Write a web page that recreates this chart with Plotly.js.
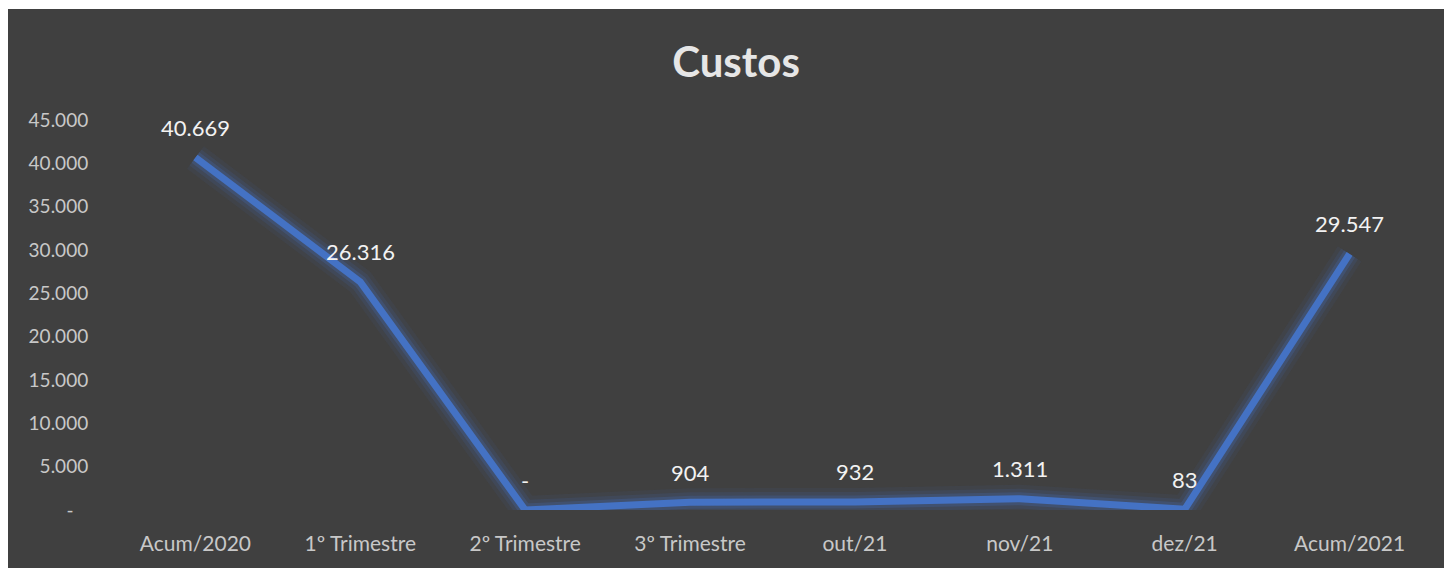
<!DOCTYPE html>
<html>
<head>
<meta charset="utf-8">
<script src="https://cdn.plot.ly/plotly-3.0.1.min.js"></script>
<style>
  html, body { margin: 0; padding: 0; background: #ffffff; width: 1444px; height: 568px; overflow: hidden; }
  #chart { position: absolute; left: 8px; top: 9px; width: 1436px; height: 559px; }
</style>
</head>
<body>
<div id="chart"></div>
<script>
const categories = ["Acum/2020", "1º Trimestre", "2º Trimestre", "3º Trimestre", "out/21", "nov/21", "dez/21", "Acum/2021"];
const custos = [40669, 26316, 0, 904, 932, 1311, 83, 29547];
const dataLabels = ["40.669", "26.316", "-", "904", "932", "1.311", "83", "29.547"];
const yTickVals = [0, 5000, 10000, 15000, 20000, 25000, 30000, 35000, 40000, 45000];
const yTickText = ["-\u00a0\u00a0\u00a0", "5.000", "10.000", "15.000", "20.000", "25.000", "30.000", "35.000", "40.000", "45.000"];

const FONT = "Lato, 'Open Sans', sans-serif";
const idx = categories.map((_, i) => i);

const glowLayers = [
  {w: 28, c: "rgba(68,114,196,0.07)"},
  {w: 20, c: "rgba(68,114,196,0.12)"},
  {w: 13, c: "rgba(68,114,196,0.22)"}
];
const traces = glowLayers.map(g => ({
  x: idx, y: custos, type: "scatter", mode: "lines",
  line: {color: g.c, width: g.w}, hoverinfo: "skip", showlegend: false
}));
traces.push({
  x: idx, y: custos, type: "scatter", mode: "lines",
  line: {color: "#4472C4", width: 7}, showlegend: false, name: "Custos"
});

const annotations = idx.map(i => ({
  x: i, y: custos[i], xref: "x", yref: "y",
  text: dataLabels[i], showarrow: false, yshift: 30,
  font: {family: FONT, size: 22, color: "#f2f2f2"}
}));

const layout = {
  width: 1436, height: 559,
  paper_bgcolor: "#404040", plot_bgcolor: "#404040",
  margin: {l: 104.5, r: 11.5, t: 111, b: 58},
  title: {text: "<b>Custos</b>", x: 728/1436, xref: "container", xanchor: "center",
          y: 1 - 53/559, yref: "container", yanchor: "middle",
          font: {family: FONT, size: 42, color: "#e6e6e6"}},
  xaxis: {
    range: [-0.5, 7.5], tickvals: idx, ticktext: categories,
    showgrid: false, zeroline: false, showline: false,
    ticks: "outside", ticklen: 15, tickcolor: "rgba(0,0,0,0)",
    tickfont: {family: FONT, size: 21, color: "#c8c8c8"}, fixedrange: true
  },
  yaxis: {
    range: [0, 45000], tickvals: yTickVals, ticktext: yTickText,
    showgrid: false, zeroline: false, showline: false,
    ticks: "outside", ticklen: 20, tickcolor: "rgba(0,0,0,0)",
    tickfont: {family: FONT, size: 19, color: "#c8c8c8"}, fixedrange: true
  },
  annotations: annotations,
  showlegend: false
};

Plotly.newPlot("chart", traces, layout, {displayModeBar: false, staticPlot: true});
</script>
</body>
</html>
